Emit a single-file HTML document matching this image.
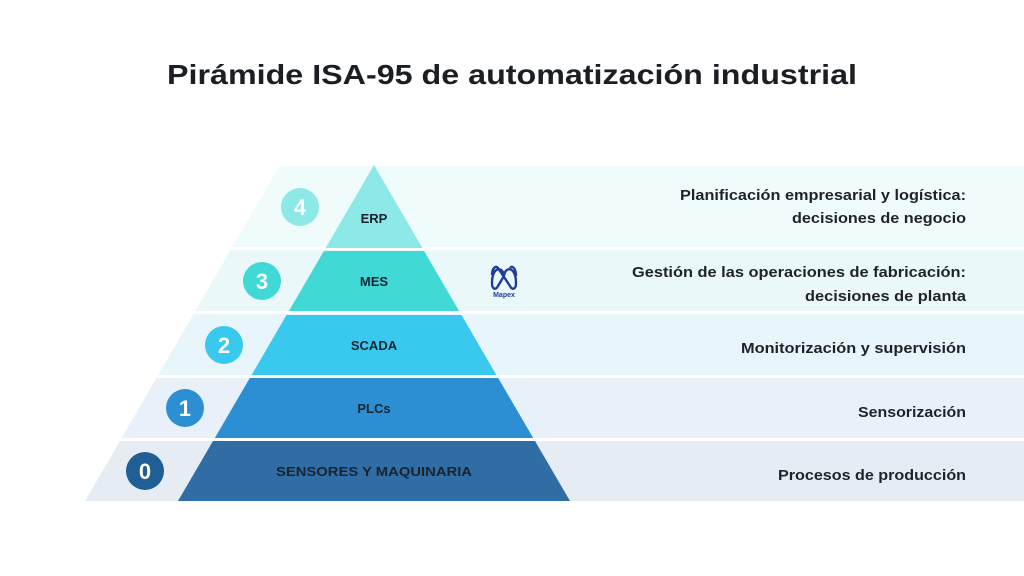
<!DOCTYPE html>
<html><head><meta charset="utf-8"><style>
html,body{margin:0;padding:0;background:#fff;}
svg{display:block;}
text{font-family:"Liberation Sans",sans-serif;font-weight:bold;}
</style></head><body>
<svg width="1024" height="576" viewBox="0 0 1024 576" xmlns="http://www.w3.org/2000/svg">
<rect width="1024" height="576" fill="#fff"/>
<text x="512" y="84" text-anchor="middle" font-size="28" fill="#1b1f24" textLength="690" lengthAdjust="spacingAndGlyphs">Pirámide ISA-95 de automatización industrial</text>
<polygon points="279.4,166 1024,166 1024,247 232.4,247" fill="#f0fbfb"/>
<polygon points="230.7,250 1024,250 1024,311 195.3,311" fill="#eaf8f9"/>
<polygon points="193.6,314 1024,314 1024,375 158.2,375" fill="#e8f5fb"/>
<polygon points="156.5,378 1024,378 1024,438 121.7,438" fill="#e8f1f9"/>
<polygon points="120,441 1024,441 1024,501 85,501" fill="#e5ecf3"/>
<polygon points="374,165 422.4,248 325.6,248" fill="#8ce9e8"/>
<polygon points="323.9,251 424.1,251 459.1,311 288.9,311" fill="#40d9d6"/>
<polygon points="286.5,315 461.5,315 496.4,375 251.6,375" fill="#39c8ee"/>
<polygon points="249.8,378 498.2,378 533.2,438 214.8,438" fill="#2c8fd4"/>
<polygon points="213,441 535,441 570,501 178,501" fill="#2f6da4"/>
<g font-size="13" fill="#1a2430" text-anchor="middle">
<text x="374" y="223">ERP</text>
<text x="374" y="286">MES</text>
<text x="374" y="350">SCADA</text>
<text x="374" y="413">PLCs</text>
<text x="374" y="476" textLength="196" lengthAdjust="spacingAndGlyphs">SENSORES Y MAQUINARIA</text>
</g>
<circle cx="300" cy="207" r="19" fill="#8ce9e8"/>
<circle cx="262" cy="281" r="19" fill="#40d9d6"/>
<circle cx="224" cy="345" r="19" fill="#39c8ee"/>
<circle cx="185" cy="408" r="19" fill="#2c8fd4"/>
<circle cx="145" cy="471" r="19" fill="#1f5f95"/>
<g font-size="22" fill="#fff" text-anchor="middle" font-weight="normal">
<text x="300" y="215">4</text>
<text x="262" y="289">3</text>
<text x="224" y="353">2</text>
<text x="185" y="416">1</text>
<text x="145" y="479">0</text>
</g>
<path d="M492,283 C492,266 503,266 504,276 C505,266 516,266 516,283 C516,290 512,290 510,286 L498,268 C496,265 492,268 492,275 M504,276 L498,286 C496,290 492,290 492,283 M516,276 C516,268 512,265 510,268" fill="none" stroke="#1f3c9c" stroke-width="2.4"/>
<text x="504" y="297" text-anchor="middle" font-size="7" fill="#1f3c9c" font-weight="normal">Mapex</text>
<g font-size="15" fill="#1f2329" text-anchor="end">
<text x="966" y="200" textLength="286" lengthAdjust="spacingAndGlyphs">Planificación empresarial y logística:</text>
<text x="966" y="223" textLength="174" lengthAdjust="spacingAndGlyphs">decisiones de negocio</text>
<text x="966" y="277" textLength="334" lengthAdjust="spacingAndGlyphs">Gestión de las operaciones de fabricación:</text>
<text x="966" y="301" textLength="161" lengthAdjust="spacingAndGlyphs">decisiones de planta</text>
<text x="966" y="353" textLength="225" lengthAdjust="spacingAndGlyphs">Monitorización y supervisión</text>
<text x="966" y="417" textLength="108" lengthAdjust="spacingAndGlyphs">Sensorización</text>
<text x="966" y="480" textLength="188" lengthAdjust="spacingAndGlyphs">Procesos de producción</text>
</g>
</svg>
</body></html>
